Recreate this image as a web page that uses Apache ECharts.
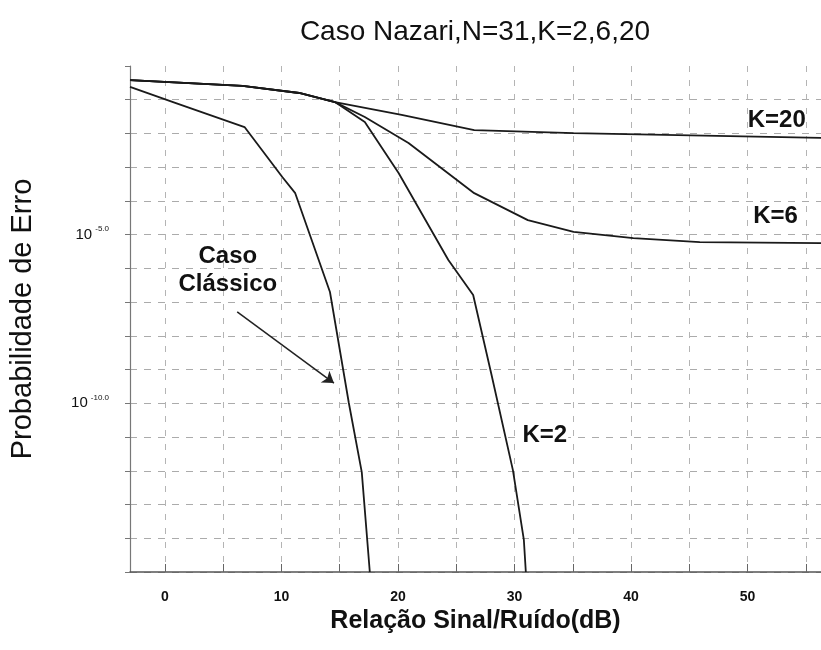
<!DOCTYPE html>
<html>
<head>
<meta charset="utf-8">
<title>Caso Nazari</title>
<script src="https://cdn.jsdelivr.net/npm/echarts@6.0.0/dist/echarts.min.js"></script>
<style>
  html, body { margin: 0; padding: 0; background: #fff; }
  #chart { width: 821px; height: 650px; }
</style>
</head>
<body>
<div id="chart"></div>
<script>
// SNR (dB) and log10(error probability)
const classicoSnr = [-3, 0.94, 6.83, 10.07, 11.18, 14.16, 15.78, 16.89, 17.58];
const classicoLogP = [-0.62, -1.10, -1.81, -3.29, -3.77, -6.70, -9.99, -12.04, -15.0];

const k20Snr = [-3, 6.66, 11.52, 14.59, 20.31, 26.54, 35.07, 56.3];
const k20LogP = [-0.42, -0.59, -0.80, -1.07, -1.45, -1.90, -1.99, -2.13];

const k6Snr = [-3, 6.66, 11.52, 14.59, 17.15, 20.9, 26.54, 31.14, 35.07, 40.19, 45.9, 56.3];
const k6LogP = [-0.42, -0.59, -0.80, -1.07, -1.51, -2.28, -3.77, -4.57, -4.92, -5.10, -5.22, -5.25];

const k2Snr = [-3, 6.66, 11.52, 14.59, 17.15, 20.05, 24.32, 26.45, 27.99, 29.86, 30.8, 30.97];
const k2LogP = [-0.42, -0.59, -0.80, -1.07, -1.66, -3.17, -5.75, -6.79, -9.10, -11.98, -14.05, -15.0];

const xLabelValues = [0, 10, 20, 30, 40, 50];
const xTickValues = [0, 5, 10, 15, 20, 25, 30, 35, 40, 45, 50, 55];
const yLabelExps = [-5, -10];

const pairs = (xs, ys) => xs.map((x, i) => [x, ys[i]]);

const chart = echarts.init(document.getElementById('chart'));

const curveStyle = { color: '#1a1a1a', width: 1.8 };
const noteLabel = {
  show: true,
  position: 'inside',
  color: '#111',
  fontFamily: 'Liberation Sans, Arial, sans-serif',
  fontWeight: 'bold',
  fontSize: 24
};

chart.setOption({
  backgroundColor: '#ffffff',
  animation: false,
  title: {
    text: 'Caso Nazari,N=31,K=2,6,20',
    left: 470,
    top: 13,
    textAlign: 'center',
    textStyle: {
      fontFamily: 'Liberation Sans, Arial, sans-serif',
      fontWeight: 'normal',
      fontSize: 28,
      color: '#111'
    }
  },
  grid: { left: 126, right: 0, top: 66, bottom: 78 },
  xAxis: {
    type: 'value',
    min: -3,
    max: 56.3,
    name: 'Relação Sinal/Ruído(dB)',
    nameLocation: 'middle',
    nameGap: 37,
    nameTextStyle: {
      fontFamily: 'Liberation Sans, Arial, sans-serif',
      fontWeight: 'bold',
      fontSize: 25,
      color: '#111'
    },
    axisLine: { onZero: false, lineStyle: { color: '#555', width: 1.5 } },
    axisTick: { inside: true, length: 8, customValues: xTickValues, lineStyle: { color: '#666' } },
    axisLabel: {
      customValues: xLabelValues,
      margin: 18,
      fontFamily: 'Liberation Sans, Arial, sans-serif',
      fontWeight: 'bold',
      fontSize: 14,
      color: '#111'
    },
    splitLine: { show: true, lineStyle: { color: '#b4b4b4', type: [6, 8], width: 1 } }
  },
  yAxis: {
    type: 'value',
    min: -15,
    max: 0,
    interval: 1,
    name: 'Probabilidade de Erro',
    nameLocation: 'middle',
    nameGap: 93,
    nameTextStyle: {
      fontFamily: 'Liberation Sans, Arial, sans-serif',
      fontSize: 29,
      color: '#111'
    },
    axisLine: { show: true, onZero: false, lineStyle: { color: '#777', width: 1.2 } },
    axisTick: { show: true, length: 5, lineStyle: { color: '#777' } },
    axisLabel: {
      customValues: yLabelExps,
      margin: 21,
      formatter: (v) => '{b|10}{s|' + v.toFixed(1) + '}',
      rich: {
        b: { fontFamily: 'Liberation Sans, Arial, sans-serif', fontSize: 15, color: '#111' },
        s: { fontFamily: 'Liberation Sans, Arial, sans-serif', fontSize: 8, color: '#111', padding: [0, 0, 11, 3] }
      }
    },
    splitLine: { show: true, showMaxLine: false, lineStyle: { color: '#ababab', type: [7, 7], width: 1 } }
  },
  series: [
    {
      name: 'Caso Clássico',
      type: 'line',
      data: pairs(classicoSnr, classicoLogP),
      symbol: 'none',
      lineStyle: curveStyle,
      markLine: {
        silent: true,
        symbol: ['none', 'arrow'],
        symbolSize: 11,
        label: { show: false },
        lineStyle: { color: '#222', width: 1.5, type: 'solid' },
        data: [[{ coord: [6.2, -7.29] }, { coord: [14.5, -9.4] }]]
      },
      markPoint: {
        silent: true,
        symbol: 'rect',
        symbolSize: 1,
        itemStyle: { color: 'transparent' },
        label: Object.assign({}, noteLabel, { lineHeight: 28, fontSize: 24 }),
        data: [{ coord: [5.4, -6.05], label: { formatter: 'Caso\nClássico' } }]
      }
    },
    {
      name: 'K=20',
      type: 'line',
      data: pairs(k20Snr, k20LogP),
      symbol: 'none',
      lineStyle: curveStyle,
      markPoint: {
        silent: true,
        symbol: 'rect',
        symbolSize: 1,
        itemStyle: { color: 'transparent' },
        label: noteLabel,
        data: [{ coord: [52.5, -1.6], label: { formatter: 'K=20' } }]
      }
    },
    {
      name: 'K=6',
      type: 'line',
      data: pairs(k6Snr, k6LogP),
      symbol: 'none',
      lineStyle: curveStyle,
      markPoint: {
        silent: true,
        symbol: 'rect',
        symbolSize: 1,
        itemStyle: { color: 'transparent' },
        label: noteLabel,
        data: [{ coord: [52.4, -4.45], label: { formatter: 'K=6' } }]
      }
    },
    {
      name: 'K=2',
      type: 'line',
      data: pairs(k2Snr, k2LogP),
      symbol: 'none',
      lineStyle: curveStyle,
      markPoint: {
        silent: true,
        symbol: 'rect',
        symbolSize: 1,
        itemStyle: { color: 'transparent' },
        label: Object.assign({}, noteLabel, { backgroundColor: '#fff', padding: [0, 1] }),
        data: [{ coord: [32.6, -10.95], label: { formatter: 'K=2' } }]
      }
    }
  ]
});

window.addEventListener('resize', () => chart.resize());
</script>
</body>
</html>
